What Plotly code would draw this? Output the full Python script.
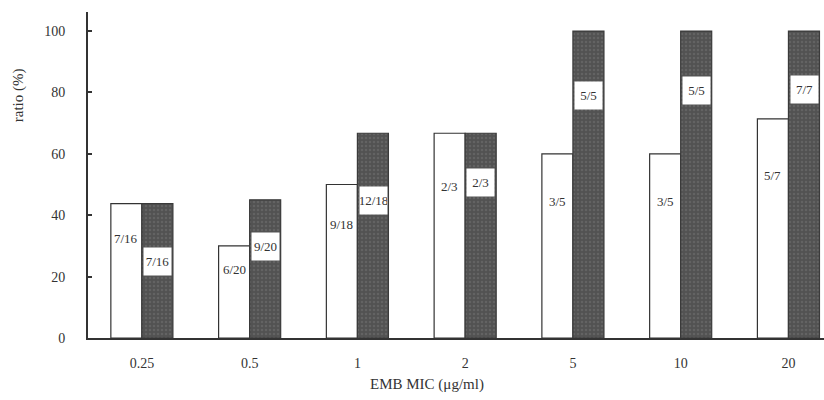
import plotly.graph_objects as go

categories = ["0.25", "0.5", "1", "2", "5", "10", "20"]
white_values = [43.75, 30.0, 50.0, 66.7, 60.0, 60.0, 71.4]
dark_values = [43.75, 45.0, 66.7, 66.7, 100.0, 100.0, 100.0]
white_labels = ["7/16", "6/20", "9/18", "2/3", "3/5", "3/5", "5/7"]
dark_labels = ["7/16", "9/20", "12/18", "2/3", "5/5", "5/5", "7/7"]
y_ticks = [0, 20, 40, 60, 80, 100]

# style: label placement as fraction of bar height
white_label_frac = 0.74
dark_label_frac = [0.57, 0.66, 0.67, 0.76, 0.79, 0.805, 0.81]

FONT = "Liberation Serif"
INK = "#333333"

fig = go.Figure()
fig.add_trace(go.Bar(
    x=categories, y=white_values, offsetgroup="a",
    marker=dict(color="white", line=dict(color=INK, width=1.2)),
    hoverinfo="skip", showlegend=False,
))
fig.add_trace(go.Bar(
    x=categories, y=dark_values, offsetgroup="b",
    marker=dict(color="#555555", line=dict(color="#3a3a3a", width=1.2),
                pattern=dict(shape=".", bgcolor="#525252", fgcolor="#747474",
                             size=4, solidity=0.3)),
    hoverinfo="skip", showlegend=False,
))

annotations = []
for i, c in enumerate(categories):
    annotations.append(dict(
        x=i - 0.145, y=white_values[i] * white_label_frac, xref="x", yref="y",
        text=white_labels[i], showarrow=False,
        font=dict(family=FONT, size=13, color=INK),
    ))
    annotations.append(dict(
        x=i + 0.145, y=dark_values[i] * dark_label_frac[i], xref="x", yref="y",
        text=dark_labels[i], showarrow=False, bgcolor="white",
        width=27, height=27, borderpad=0,
        font=dict(family=FONT, size=13, color=INK),
    ))

annotations.append(dict(
    x=-0.095, y=0.745, xref="paper", yref="paper", text="ratio (%)", showarrow=False,
    textangle=-90, xanchor="center", yanchor="middle",
    font=dict(family=FONT, size=15, color=INK),
))
annotations.append(dict(
    x=0.46, y=-0.142, xref="paper", yref="paper", text="EMB MIC (μg/ml)",
    showarrow=False, yanchor="middle",
    font=dict(family=FONT, size=15, color=INK),
))

fig.update_layout(
    width=824, height=400,
    margin=dict(l=88, r=0, t=12, b=62),
    paper_bgcolor="white", plot_bgcolor="white",
    barmode="group", bargap=0.424, bargroupgap=0,
    font=dict(family=FONT, size=14, color=INK),
    annotations=annotations,
    xaxis=dict(
        type="category", range=[-0.5, 6.33],
        showline=True, linecolor=INK, linewidth=2,
        ticks="", showgrid=False, zeroline=False,
        tickfont=dict(family=FONT, size=14, color=INK),
        ticklabelstandoff=11,
    ),
    yaxis=dict(
        range=[0, 106.2], tickvals=y_ticks,
        showline=True, linecolor=INK, linewidth=2,
        ticks="inside", ticklen=4, tickcolor=INK, tickwidth=1.5,
        showgrid=False, zeroline=False,
        tickfont=dict(family=FONT, size=14, color=INK),
        ticklabelstandoff=18,
    ),
)

fig.write_html("out.html", config={"displayModeBar": False},
               post_script="document.body.style.margin='0';")
